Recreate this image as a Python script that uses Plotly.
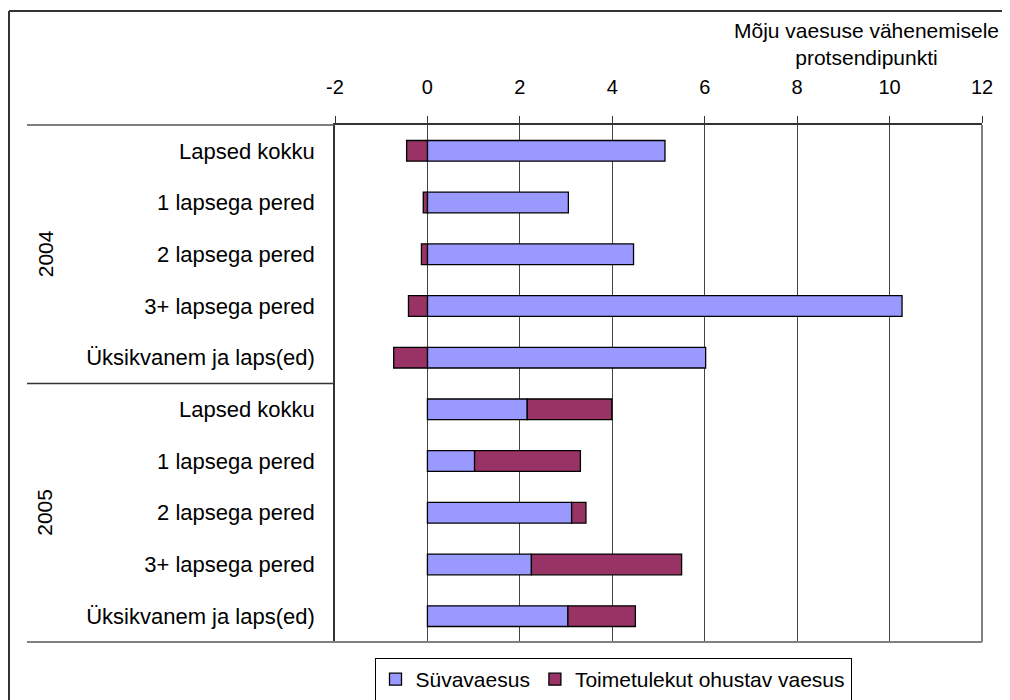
import plotly.graph_objects as go

years = ["2004", "2005"]
categories = ["Lapsed kokku", "1 lapsega pered", "2 lapsega pered", "3+ lapsega pered", "Üksikvanem ja laps(ed)"]
labels = categories + categories
suvavaesus = [5.14, 3.05, 4.46, 10.27, 6.02, 2.16, 1.02, 3.12, 2.25, 3.04]
toimetulek = [-0.45, -0.09, -0.13, -0.41, -0.73, 1.83, 2.29, 0.31, 3.25, 1.46]
x_ticks = [-2, 0, 2, 4, 6, 8, 10, 12]
x_ticktext = ["-2", "0", "2", "4", "6", "8", "10", "12"]

FONT = "Liberation Sans, Arial, sans-serif"
pos = list(range(len(labels)))

# page body has an 8px margin; work in figure-local pixels
OFF = 8
W, H = 1002, 692
L = 335 - OFF
T = 125 - OFF
R = W - (982 - OFF)
B = H - (642 - OFF)
pw = W - L - R
ph = H - T - B

def gx(px):
    return (px - OFF - L) / pw

def gy(py):
    return 1 - (py - OFF - T) / ph

fig = go.Figure()
fig.add_trace(go.Bar(y=pos, x=suvavaesus, orientation="h", name="Süvavaesus",
                     marker=dict(color="#9999FF", line=dict(color="#000000", width=1.3))))
fig.add_trace(go.Bar(y=pos, x=toimetulek, orientation="h", name="Toimetulekut ohustav vaesus",
                     marker=dict(color="#993366", line=dict(color="#000000", width=1.3))))

shapes = []
shapes.append(dict(type="line", xref="paper", yref="paper", x0=gx(27), x1=0, y0=1, y1=1,
                   line=dict(color="#555555", width=1.5)))
shapes.append(dict(type="line", xref="paper", yref="paper", x0=gx(27), x1=0, y0=0, y1=0,
                   line=dict(color="#808080", width=2)))
shapes.append(dict(type="line", xref="paper", yref="y", x0=gx(27), x1=0, y0=4.5, y1=4.5,
                   line=dict(color="#333333", width=1.3)))
shapes.append(dict(type="line", xref="paper", yref="paper", x0=0, x1=1, y0=0, y1=0,
                   line=dict(color="#808080", width=2)))
shapes.append(dict(type="line", xref="paper", yref="paper", x0=1, x1=1, y0=0, y1=1,
                   line=dict(color="#808080", width=2)))
# outer chart border (left + top)
shapes.append(dict(type="line", xref="paper", yref="paper", x0=gx(9), x1=gx(1015),
                   y0=gy(11), y1=gy(11), line=dict(color="#333333", width=2)))
shapes.append(dict(type="line", xref="paper", yref="paper", x0=gx(9), x1=gx(9),
                   y0=gy(11), y1=gy(705), line=dict(color="#333333", width=2)))

annotations = [
    dict(text="Mõju vaesuse vähenemisele<br>protsendipunkti", xref="paper", yref="paper",
         x=gx(866), y=gy(17), xanchor="center", yanchor="top",
         showarrow=False, font=dict(family=FONT, size=21, color="#000000"), align="center"),
    dict(text=years[0], xref="paper", yref="y", x=gx(45), y=2, textangle=-90,
         showarrow=False, font=dict(family=FONT, size=21, color="#000000"), xanchor="center", yanchor="middle"),
    dict(text=years[1], xref="paper", yref="y", x=gx(45), y=7, textangle=-90,
         showarrow=False, font=dict(family=FONT, size=21, color="#000000"), xanchor="center", yanchor="middle"),
]

fig.update_layout(
    width=W, height=H,
    margin=dict(l=L, r=R, t=T, b=B, autoexpand=False),
    barmode="relative",
    bargap=0.6,
    plot_bgcolor="white", paper_bgcolor="white",
    font=dict(family=FONT, size=21, color="#000000"),
    shapes=shapes,
    annotations=annotations,
    showlegend=True,
    legend=dict(orientation="h", x=gx(613), xanchor="center", y=gy(658), yanchor="top",
                bordercolor="#000000", borderwidth=1, font=dict(family=FONT, size=21, color="#000000"),
                itemwidth=30, tracegroupgap=0),
)
fig.update_xaxes(side="top", range=[-2, 12], tickvals=x_ticks, ticktext=x_ticktext, ticks="outside", ticklen=7,
                 tickcolor="#333333", showline=True, linecolor="#333333", linewidth=2,
                 ticklabelstandoff=14,
                 showgrid=True, gridcolor="#444444", gridwidth=1, zeroline=False,
                 tickfont=dict(family=FONT, size=20, color="#000000"), fixedrange=True)
fig.update_yaxes(range=[9.5, -0.5], tickvals=pos, ticktext=labels, showline=True,
                 linecolor="#333333", linewidth=1.5, showgrid=False, zeroline=False, ticks="",
                 ticklabelstandoff=14, tickfont=dict(family=FONT, size=22, color="#000000"))

fig.write_html("out.html")
